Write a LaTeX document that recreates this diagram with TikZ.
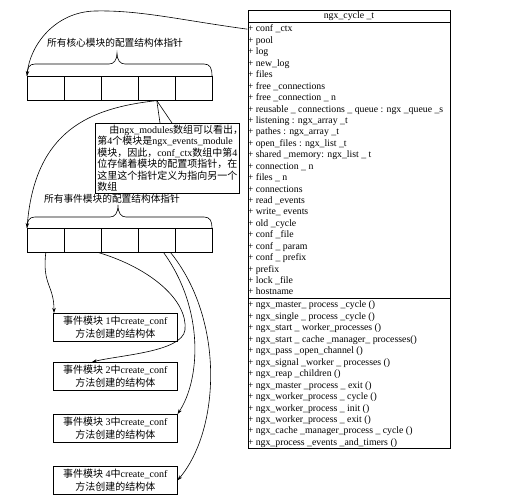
\documentclass[tikz,border=0pt]{standalone}
\usepackage{fontspec}
\setmainfont{Liberation Serif}
\newfontfamily\cjk{Noto Sans CJK SC}
\usetikzlibrary{arrows.meta}
\newcommand\zh[1]{{\cjk #1}}
\begin{document}
\begin{tikzpicture}[x=1pt,y=-1pt, line width=0.6pt,
  cell/.style={draw, minimum width=37pt, minimum height=24pt, inner sep=0pt, anchor=north west},
  ebox/.style={draw, minimum width=124pt, minimum height=28pt, inner sep=0pt, anchor=north west, align=center, font=\fontsize{10}{12.5}\selectfont},
  conn/.style={-{Stealth[length=5pt,width=3.5pt]}},
  fld/.style={anchor=base west, inner sep=0pt, font=\fontsize{9.8}{11}\selectfont},
  lbl/.style={font=\fontsize{9.7}{11}\selectfont, inner sep=0pt}]
\useasboundingbox (0,0) rectangle (515,500);

% right class box
\node[draw, line width=0.8pt, minimum width=202pt, minimum height=438pt, inner sep=0pt, anchor=north west] (cyc) at (248,10) {};
\node[font=\fontsize{9.8}{11}\selectfont, inner sep=0pt] (title) at (349,16.5) {ngx\_cycle \_t};
\draw[line width=1pt] (248,23) -- (450,23);
\draw[line width=0.8pt] (248,298) -- (450,298);
\foreach \t [count=\i] in {conf \_ctx, pool, log, new\_log, files, free \_connections, free \_connection \_ n,
  reusable \_ connections \_ queue : ngx \_queue \_s, listening : ngx\_array \_t, pathes : ngx\_array \_t,
  open\_files : ngx\_list \_t, shared \_memory: ngx\_list \_ t, connection \_ n, files \_ n, connections,
  read \_events, write\_ events, old \_cycle, conf \_file, conf \_ param, conf \_ prefix, prefix, lock \_file, hostname}
  \node[fld] (f\i) at (247.5,{32+(\i-1)*11.43}) {+ \t};
\foreach \t [count=\i] in {ngx\_master\_ process \_cycle (), ngx\_single \_ process \_cycle (),
  ngx\_start \_ worker\_processes (), ngx\_start \_ cache \_manager\_ processes(), ngx\_pass \_open\_channel (),
  ngx\_signal \_worker \_ processes (), ngx\_reap \_children (), ngx\_master \_process \_ exit (),
  ngx\_worker\_process \_ cycle (), ngx\_worker\_process \_ init (), ngx\_worker\_process \_ exit (),
  ngx\_cache \_manager\_process \_ cycle (), ngx\_process \_events \_and\_timers ()}
  \node[fld] (m\i) at (247.5,{308+(\i-1)*11.45}) {+ \t};

% top array
\foreach \i in {1,...,5} \node[cell] (a\i) at ({27+37*(\i-1)},76) {};
\draw (27,76) .. controls (27,68) and (29,64) .. (35,64) -- (109,64)
  .. controls (114,64) and (117,60) .. (117,53)
  .. controls (117,60) and (120,64) .. (125,64) -- (204,64)
  .. controls (210,64) and (212,68) .. (212,76);
\node[lbl] (lab1) at (115,43) {\zh{所有核心模块的配置结构体指针}};
\draw[conn] (f1.west) .. controls (180,20) and (140,10) .. (95,11) .. controls (55,12) and (30,45) .. (a1.north west);

% note
\node[draw, anchor=north west, text width=140pt, inner xsep=2pt, inner ysep=1.5pt, align=left,
  font=\fontsize{10}{11.5}\selectfont] (note) at (95,123)
  {\hspace*{12pt}\zh{由}ngx\_modules\zh{数组可以看出，}\\
   \zh{第}4\zh{个模块是}ngx\_events\_module\\
   \zh{模块，因此，}conf\_ctx\zh{数组中第}4\\
   \zh{位存储着模块的配置项指针，在}\\
   \zh{这里这个指针定义为指向另一个}\\
   \zh{数组}};
\draw (a4.south) -- ([xshift=65pt]note.north west);
\draw (a4.south) -- ([xshift=77pt]note.north west);

% second array
\foreach \i in {1,...,5} \node[cell] (b\i) at ({27+37*(\i-1)},228) {};
\draw (27,228) .. controls (27,221) and (29,217) .. (35,217) -- (110,217)
  .. controls (115,217) and (118,213) .. (118,205)
  .. controls (118,213) and (121,217) .. (126,217) -- (204,217)
  .. controls (210,217) and (212,221) .. (212,228);
\node[lbl] (lab2) at (112,199) {\zh{所有事件模块的配置结构体指针}};
\draw[conn] (a4.south) .. controls (90,108) and (35,130) .. (b1.north west);

% event module boxes
\node[ebox] (e1) at (53,313) {\zh{事件模块} 1\zh{中}create\_conf\\\zh{方法创建的结构体}};
\node[ebox] (e2) at (53,362) {\zh{事件模块} 2\zh{中}create\_conf\\\zh{方法创建的结构体}};
\node[ebox] (e3) at (53,414) {\zh{事件模块} 3\zh{中}create\_conf\\\zh{方法创建的结构体}};
\node[ebox] (e4) at (53,466) {\zh{事件模块} 4\zh{中}create\_conf\\\zh{方法创建的结构体}};

\draw[conn] (b1.south) .. controls (42,285) and (54,285) .. ([xshift=1pt]e1.north west);
\draw[conn] ([xshift=-3pt]b2.south east) .. controls (150,268) and (188,300) .. (185,330)
  .. controls (182,352) and (120,355) .. ([xshift=39pt]e2.north west);
\draw[conn] ([xshift=-12pt]b4.south east) .. controls (205,310) and (200,380) .. (e3.north east);
\draw[conn] ([xshift=-5pt]b4.south east) .. controls (225,320) and (220,430) .. (e4.east);
\end{tikzpicture}
\end{document}
